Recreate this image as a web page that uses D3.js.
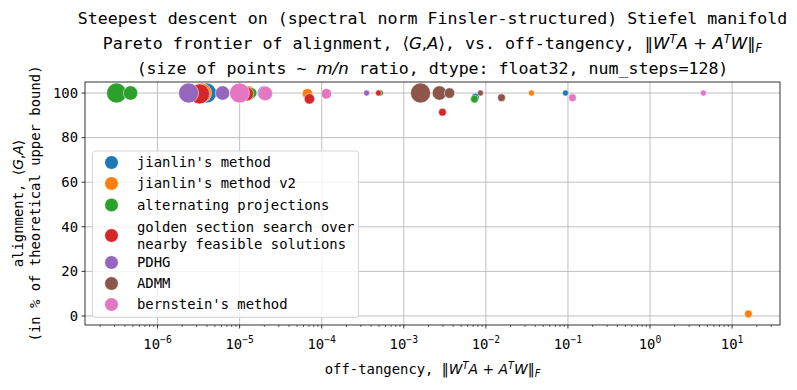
<!DOCTYPE html>
<html><head><meta charset="utf-8">
<script src="https://cdn.jsdelivr.net/npm/d3@7"></script>
<style>
body{margin:0;background:#fff;}
text{font-family:"DejaVu Sans Mono",monospace;fill:#000;}
.m{font-family:"DejaVu Sans",sans-serif;font-style:italic;}
.mr{font-family:"DejaVu Sans",sans-serif;}
</style></head>
<body>
<svg id="c" width="797" height="390"></svg>
<script>
// ---- data ----
const methods = ["jianlin's method","jianlin's method v2","alternating projections",
  "golden section search over\nnearby feasible solutions","PDHG","ADMM","bernstein's method"];
const colors = ["#1f77b4","#ff7f0e","#2ca02c","#d62728","#9467bd","#8c564b","#e377c2"];
const ratios = [16, 8, 4, 2, 1]; // m/n ratio of each point within a series

const jianlinOff   = [3.95e-6, 2.01e-5, 6.55e-6, 7.46e-3, 9.33e-2];
const jianlinAlign = [100, 100, 100, 98.2, 100];
const jianlinV2Off   = [3.44e-6, 1.28e-5, 6.71e-5, 15.8, 3.59e-2];
const jianlinV2Align = [100, 100, 99.7, 0.9, 100];
const altProjOff   = [3.17e-7, 4.69e-7, 1.40e-5, 7.26e-3, 5.20e-4];
const altProjAlign = [100, 100, 100, 97.3, 100];
const goldenOff   = [3.25e-6, 1.21e-5, 7.09e-5, 2.96e-3, 4.92e-4];
const goldenAlign = [99.6, 99.6, 97.4, 91.4, 100];
const pdhgOff   = [2.39e-6, 6.20e-6, 1.51e-3, 1.84e-3, 3.52e-4];
const pdhgAlign = [100, 100, 100, 99.3, 100];
const admmOff   = [1.60e-3, 2.72e-3, 3.61e-3, 1.55e-2, 8.59e-3];
const admmAlign = [100, 100, 100, 97.9, 100];
const bernsteinOff   = [9.98e-6, 2.06e-5, 1.14e-4, 0.1135, 4.47];
const bernsteinAlign = [100, 99.8, 99.7, 97.9, 100];

const yTicks = [0, 20, 40, 60, 80, 100];
const xTickExps = [-6, -5, -4, -3, -2, -1, 0, 1];

const offs = [jianlinOff, jianlinV2Off, altProjOff, goldenOff, pdhgOff, admmOff, bernsteinOff];
const aligns = [jianlinAlign, jianlinV2Align, altProjAlign, goldenAlign, pdhgAlign, admmAlign, bernsteinAlign];

const points = [];
methods.forEach((m, i) => offs[i].forEach((x, j) => points.push({s: i, x, y: aligns[i][j], r: ratios[j]})));

// ---- layout ----
const L = 85, R = 780, T = 82, B = 325;
const svg = d3.select("#c");

const lx = d3.extent(points, d => Math.log10(d.x));
const lm = (lx[1] - lx[0]) * 0.05;
const x = d3.scaleLog().domain([Math.pow(10, lx[0] - lm), Math.pow(10, lx[1] + lm)]).range([L, R]);
const ye = d3.extent(points, d => d.y);
const ym = (ye[1] - ye[0]) * 0.05;
const y = d3.scaleLinear().domain([ye[0] - ym, ye[1] + ym]).range([B, T]);
const area = d3.scaleLinear().domain([1, 16]).range([9, 100]);
const rad = v => Math.sqrt(area(v));

// grid
const g = svg.append("g");
xTickExps.forEach(e => {
  const px = x(Math.pow(10, e));
  g.append("line").attr("x1", px).attr("x2", px).attr("y1", T).attr("y2", B)
    .attr("stroke", "#b0b0b0").attr("stroke-width", 0.8);
});
yTicks.forEach(t => {
  g.append("line").attr("x1", L).attr("x2", R).attr("y1", y(t)).attr("y2", y(t))
    .attr("stroke", "#b0b0b0").attr("stroke-width", 0.8);
});

// points
svg.append("g").selectAll("circle").data(points).join("circle")
  .attr("cx", d => x(d.x)).attr("cy", d => y(d.y)).attr("r", d => rad(d.r))
  .attr("fill", d => colors[d.s]).attr("stroke", "#fff").attr("stroke-width", 0.5);

// spines
svg.append("rect").attr("x", L).attr("y", T).attr("width", R - L).attr("height", B - T)
  .attr("fill", "none").attr("stroke", "#000").attr("stroke-width", 0.8);

// x ticks
const xa = svg.append("g");
const [d0, d1] = x.domain();
for (let e = Math.floor(Math.log10(d0)); e <= Math.ceil(Math.log10(d1)); e++) {
  for (let k = 1; k <= 9; k++) {
    const v = k * Math.pow(10, e);
    if (v < d0 || v > d1) continue;
    const px = x(v);
    xa.append("line").attr("x1", px).attr("x2", px).attr("y1", B).attr("y2", B + (k === 1 ? 3.5 : 2))
      .attr("stroke", "#000").attr("stroke-width", k === 1 ? 0.8 : 0.6);
  }
}
xTickExps.forEach(e => {
  const t = xa.append("text").attr("x", x(Math.pow(10, e))).attr("y", 349)
    .attr("text-anchor", "middle").attr("font-size", 13.9);
  t.append("tspan").text("10");
  t.append("tspan").attr("dy", -6).attr("font-size", 9.7).text(e < 0 ? "\u2212" + (-e) : String(e));
});

// y ticks
const ya = svg.append("g");
yTicks.forEach(t => {
  ya.append("line").attr("x1", L - 3.5).attr("x2", L).attr("y1", y(t)).attr("y2", y(t))
    .attr("stroke", "#000").attr("stroke-width", 0.8);
  ya.append("text").attr("x", L - 7).attr("y", y(t)).attr("dy", "0.35em")
    .attr("text-anchor", "end").attr("font-size", 13.9).text(t);
});

// math helper: ||W^T A + A^T W||_F
function normExpr(t, fs) {
  t.append("tspan").attr("class", "mr").text("\u2016");
  t.append("tspan").attr("class", "m").text("W");
  t.append("tspan").attr("class", "m").attr("dy", -fs * 0.38).attr("font-size", fs * 0.7).text("T");
  t.append("tspan").attr("class", "m").attr("dy", fs * 0.38).text("A");
  t.append("tspan").attr("class", "mr").text(" + ");
  t.append("tspan").attr("class", "m").text("A");
  t.append("tspan").attr("class", "m").attr("dy", -fs * 0.38).attr("font-size", fs * 0.7).text("T");
  t.append("tspan").attr("class", "m").attr("dy", fs * 0.38).text("W");
  t.append("tspan").attr("class", "mr").text("\u2016");
  t.append("tspan").attr("class", "m").attr("dy", fs * 0.2).attr("font-size", fs * 0.7).text("F");
}

// x label
const xl = svg.append("text").attr("x", (L + R) / 2).attr("y", 374).attr("text-anchor", "middle").attr("font-size", 13.9);
xl.append("tspan").text("off-tangency, ");
normExpr(xl, 13.9);

// y label
const yl1 = svg.append("text").attr("transform", `translate(18,${(T + B) / 2}) rotate(-90)`)
  .attr("text-anchor", "middle").attr("dy", "0.35em").attr("font-size", 13.9);
yl1.append("tspan").text("alignment, ");
yl1.append("tspan").attr("class", "mr").text("\u27E8");
yl1.append("tspan").attr("class", "m").text("G");
yl1.append("tspan").attr("class", "mr").text(",");
yl1.append("tspan").attr("class", "m").text("A");
yl1.append("tspan").attr("class", "mr").text("\u27E9");
svg.append("text").attr("transform", `translate(35,${(T + B) / 2}) rotate(-90)`)
  .attr("text-anchor", "middle").attr("dy", "0.35em").attr("font-size", 13.9)
  .text("(in % of theoretical upper bound)");

// title
const cx = (L + R) / 2, tfs = 16.6;
svg.append("text").attr("x", cx).attr("y", 24).attr("text-anchor", "middle").attr("font-size", tfs)
  .text("Steepest descent on (spectral norm Finsler-structured) Stiefel manifold");
const t2 = svg.append("text").attr("x", cx).attr("y", 49).attr("text-anchor", "middle").attr("font-size", tfs);
t2.append("tspan").text("Pareto frontier of alignment, ");
t2.append("tspan").attr("class", "mr").text("\u27E8");
t2.append("tspan").attr("class", "m").text("G");
t2.append("tspan").attr("class", "mr").text(",");
t2.append("tspan").attr("class", "m").text("A");
t2.append("tspan").attr("class", "mr").text("\u27E9");
t2.append("tspan").text(", vs. off-tangency, ");
normExpr(t2, tfs);
const t3 = svg.append("text").attr("x", cx).attr("y", 74).attr("text-anchor", "middle").attr("font-size", tfs);
t3.append("tspan").text("(size of points ~ ");
t3.append("tspan").attr("class", "m").text("m/n");
t3.append("tspan").text(" ratio, dtype: float32, num_steps=128)");

// legend
const lg = svg.append("g");
lg.append("rect").attr("x", 92.5).attr("y", 151).attr("width", 266).attr("height", 166.5).attr("rx", 3)
  .attr("fill", "#fff").attr("fill-opacity", 0.8).attr("stroke", "#cccccc").attr("stroke-width", 0.8);
const rowY = [162.5, 183.5, 205, 235.5, 262.5, 283.5, 304.5];
methods.forEach((m, i) => {
  lg.append("circle").attr("cx", 111.5).attr("cy", rowY[i]).attr("r", 6.8)
    .attr("fill", colors[i]).attr("stroke", "#fff").attr("stroke-width", 0.5);
  const lines = m.split("\n");
  lines.forEach((ln, k) => {
    lg.append("text").attr("x", 137).attr("y", rowY[i] + (k - (lines.length - 1) / 2) * 16.5)
      .attr("dy", "0.35em").attr("font-size", 13.9).attr("xml:space", "preserve").text(ln);
  });
});
</script>
</body></html>
